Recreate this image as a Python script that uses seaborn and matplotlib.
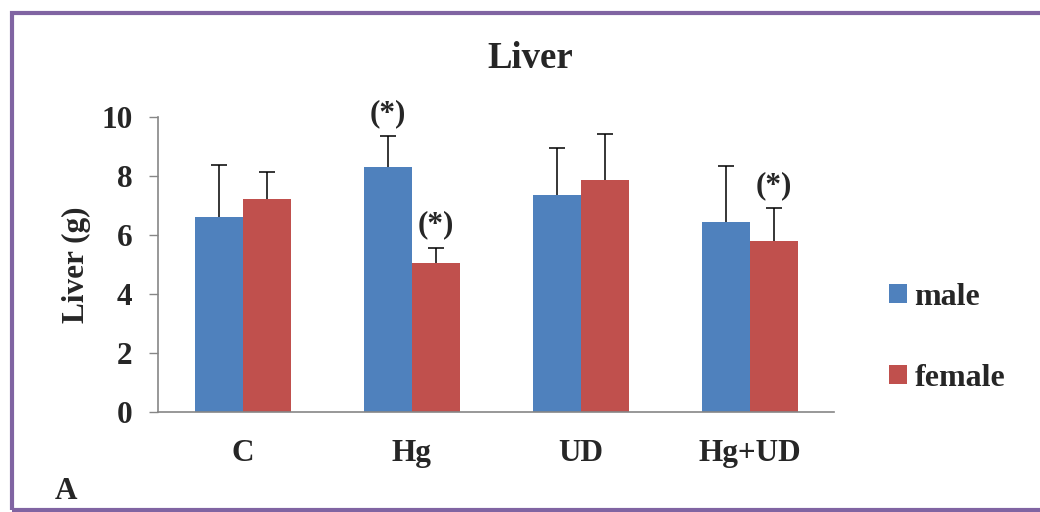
import matplotlib
matplotlib.use("Agg")
import matplotlib.pyplot as plt
import seaborn as sns
import pandas as pd
from matplotlib.patches import Rectangle

categories = ["C", "Hg", "UD", "Hg+UD"]
male = [6.60, 8.32, 7.37, 6.45]
female = [7.24, 5.07, 7.85, 5.81]
male_err = [1.76, 1.03, 1.58, 1.89]
female_err = [0.90, 0.51, 1.59, 1.11]
male_sig = [False, True, False, False]
female_sig = [False, True, False, True]
yticks = [0, 2, 4, 6, 8, 10]

sns.set_style("white")
plt.rcParams["font.family"] = ["Liberation Serif", "DejaVu Serif"]
plt.rcParams["font.weight"] = "bold"

FS = 22.5

df = pd.DataFrame({
    "group": categories * 2,
    "sex": ["male"] * len(categories) + ["female"] * len(categories),
    "value": male + female,
})

fig = plt.figure(figsize=(10.4, 5.12), dpi=100)
ax = fig.add_axes([0.1522, 0.1947, 0.650, 0.5768])

palette = {"male": "#4F81BD", "female": "#C0504D"}
sns.barplot(data=df, x="group", y="value", hue="sex", order=categories,
            hue_order=["male", "female"], palette=palette, width=0.57,
            errorbar=None, linewidth=0, saturation=1, ax=ax)

errs = [male_err, female_err]
sigs = [male_sig, female_sig]
for cont, err, sig in zip(ax.containers, errs, sigs):
    for bar, e, s in zip(cont, err, sig):
        x = bar.get_x() + bar.get_width() / 2
        h = bar.get_height()
        eb = ax.errorbar(x, h, yerr=[[0], [e]], fmt="none", ecolor="black",
                         elinewidth=1.1, capsize=6, capthick=1.1)
        caps = eb[1]
        if len(caps) >= 2:
            caps[0].set_visible(False)
        if s:
            ax.text(x, h + e + 0.27, "(*)", ha="center", va="bottom",
                    fontsize=FS, fontweight="bold")

ax.set_ylim(0, 10)
ax.set_xlim(-0.5, 3.5)
ax.set_yticks(yticks)
ax.set_yticklabels([str(t) for t in yticks], fontsize=FS, fontweight="bold")
ax.set_xticks(range(len(categories)))
ax.set_xticklabels(categories, fontsize=FS, fontweight="bold")
ax.tick_params(axis="x", length=0, pad=19.5)
ax.tick_params(axis="y", length=6.5, width=1, color="#868686", pad=12, direction="out", left=True)
for side in ["top", "right"]:
    ax.spines[side].set_visible(False)
for side in ["left", "bottom"]:
    ax.spines[side].set_color("#868686")
    ax.spines[side].set_linewidth(1.2)
ax.set_xlabel("")
ax.set_ylabel("Liver (g)", fontsize=FS, fontweight="bold")
ax.yaxis.set_label_coords(-0.10, 0.5)

ax.legend(loc="center left", bbox_to_anchor=(889 / 1040, 1 - 338 / 512),
          bbox_transform=fig.transFigure, frameon=False,
          handlelength=0.55, handleheight=0.55, handletextpad=0.25,
          labelspacing=1.62, borderpad=0, borderaxespad=0,
          prop={"weight": "bold", "size": 23})

fig.text(530 / 1040, 1 - 68 / 512, "Liver", ha="center", va="baseline",
         fontsize=26.5, fontweight="bold")
fig.text(55 / 1040, 1 - 499 / 512, "A", ha="left", va="baseline",
         fontsize=FS, fontweight="bold")

fig.patches.append(Rectangle((12 / 1040, 1 - 510 / 512), 1.2, (510 - 12.5) / 512,
                             transform=fig.transFigure, fill=False,
                             edgecolor="#8064A2", linewidth=3, clip_on=False))

fig.savefig("out.png", dpi=100)
